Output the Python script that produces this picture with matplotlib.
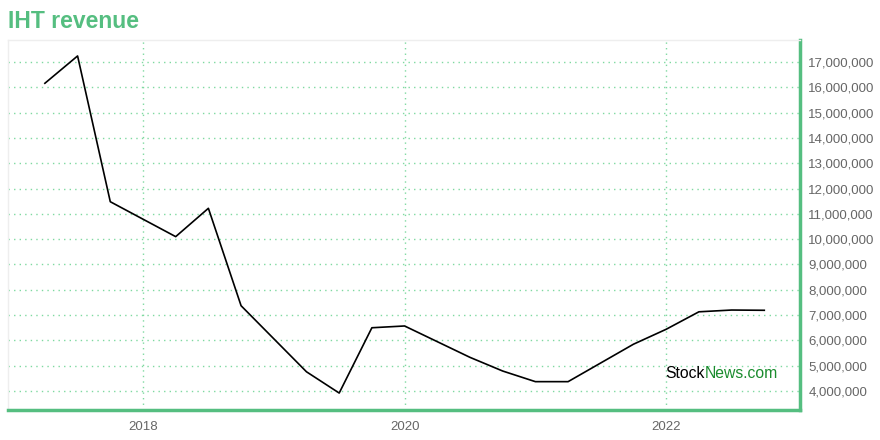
import numpy as np
import matplotlib.pyplot as plt
from matplotlib.ticker import FuncFormatter

# quarterly revenue, x in decimal years
quarters = [2017.25, 2017.5, 2017.75, 2018.25, 2018.5, 2018.75, 2019.25, 2019.5,
            2019.75, 2020.0, 2020.5, 2020.75, 2021.0, 2021.25, 2021.75, 2022.0,
            2022.25, 2022.5, 2022.75]
revenue = [16.16, 17.24, 11.48, 10.10, 11.22, 7.37, 4.76, 3.92,
           6.50, 6.57, 5.33, 4.79, 4.37, 4.37, 5.85, 6.44,
           7.13, 7.20, 7.19]
revenue = [v * 1e6 for v in revenue]
year_ticks = [2018, 2020, 2022]
value_ticks = [v * 1e6 for v in range(4, 18)]

green = '#55be80'
plt.rcParams['font.family'] = ['Liberation Sans', 'DejaVu Sans']

fig = plt.figure(figsize=(8.8, 4.4), dpi=100)
ax = fig.add_axes([8/880, 30/440, 792/880, 370/440])

ax.plot(quarters, revenue, color='black', lw=1.2)

ax.set_xlim(2016.968, 2023.023)
ax.set_ylim(3.25e6, 17.87e6)
ax.set_xticks(year_ticks)
ax.set_xticklabels([str(y) for y in year_ticks])
ax.set_yticks(value_ticks)
ax.yaxis.set_major_formatter(FuncFormatter(lambda v, p: f'{int(round(v)):,}'))
ax.yaxis.tick_right()
ax.tick_params(length=0, labelsize=9.5, labelcolor='#666666')
ax.tick_params(axis='x', pad=8)
ax.tick_params(axis='y', pad=6)

# dotted green grid
ax.grid(True, color='#7fd9a0', linestyle=(0, (1, 3)), lw=1.0)
ax.set_axisbelow(True)

for s in ['left', 'top']:
    ax.spines[s].set_color('#eeeeee')
    ax.spines[s].set_linewidth(1)
for s in ['right', 'bottom']:
    ax.spines[s].set_color(green)
    ax.spines[s].set_linewidth(2.5)

fig.text(8/880, 1 - 22/440, 'IHT revenue', color=green, fontsize=16.5,
         fontweight='bold', va='center', ha='left')

# watermark
t1 = ax.text(0.83, 0.1, 'Stock', transform=ax.transAxes, fontsize=11.3,
             color='black', va='center', ha='left')
ax.annotate('News.com', xy=(1, 0), xycoords=t1, fontsize=11.3, color='#1b8c2e',
            va='bottom', ha='left')

fig.savefig('out.png', dpi=100)
